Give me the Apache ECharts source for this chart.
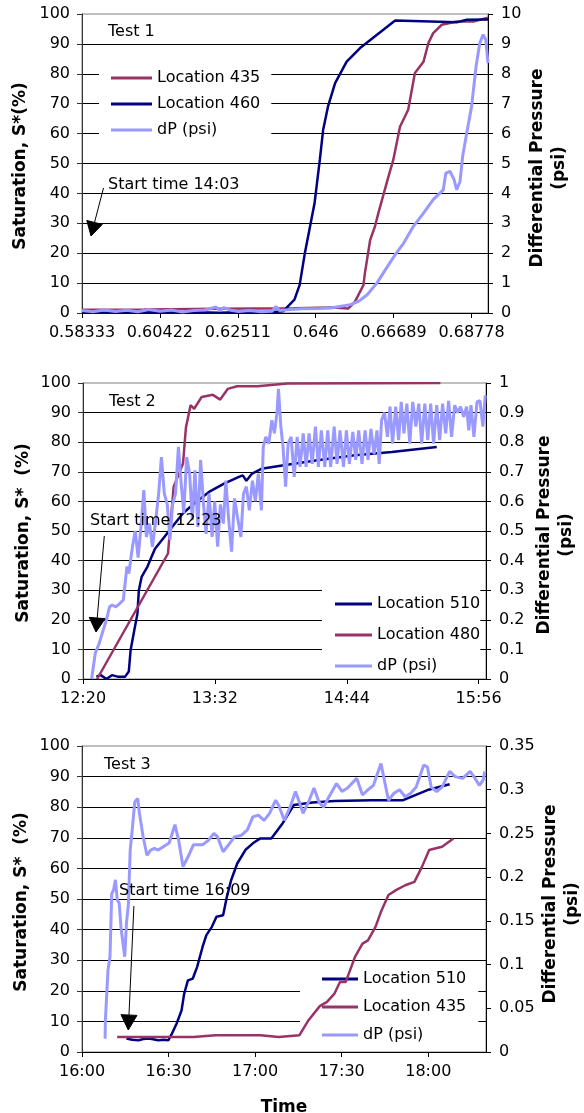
<!DOCTYPE html>
<html><head><meta charset="utf-8">
<script src="https://cdn.jsdelivr.net/npm/echarts@6/dist/echarts.min.js"></script>
<style>html,body{margin:0;padding:0;background:#fff}#c{width:584px;height:1113px}</style>
</head><body><div id="c"></div>
<script>
// ---------- DATA ----------
// Test 1: x = time as fraction of a day, left = saturation (%), right = dP (psi)
const t1Ticks = ['0.58333','0.60422','0.62511','0.646','0.66689','0.68778'];
const t1Loc435 = [[0.58333,1.1],[0.6,1.2],[0.62,1.4],[0.64,1.6],[0.6505,1.8],[0.6547,1.5],[0.6565,3.7],[0.6588,9.3],[0.6592,13.4],[0.6606,24.4],[0.6619,29],[0.6628,33.4],[0.6655,45.6],[0.6668,51.2],[0.6686,62.3],[0.6708,68],[0.6726,80.3],[0.6749,84],[0.6762,90.2],[0.6775,93.6],[0.6798,96.4],[0.6838,97.5],[0.6883,97.5],[0.6922,98.8]];
const t1Loc460 = [[0.58333,0.3],[0.59,0.1],[0.597,0.4],[0.605,0.1],[0.612,0.3],[0.62,0.1],[0.627,0.3],[0.633,0.2],[0.6373,0.6],[0.6403,4.5],[0.6417,9.4],[0.6431,20.1],[0.6457,36.8],[0.6471,51.2],[0.648,61.3],[0.6493,69.1],[0.6512,76.9],[0.6543,84.1],[0.6579,88.6],[0.6673,97.8],[0.6838,97.2],[0.6865,98.1],[0.6922,98.2]];
const t1dP = [[0.58333,0.08],[0.5863,0.04],[0.5893,0.1],[0.5923,0.05],[0.5953,0.09],[0.5983,0.04],[0.6013,0.12],[0.6043,0.06],[0.6073,0.1],[0.6103,0.03],[0.6133,0.08],[0.6163,0.1],[0.6193,0.2],[0.6203,0.08],[0.6213,0.18],[0.6233,0.09],[0.6253,0.05],[0.6283,0.08],[0.6313,0.04],[0.6343,0.06],[0.6353,0.22],[0.6363,0.08],[0.6393,0.12],[0.6423,0.14],[0.6473,0.15],[0.65,0.17],[0.6553,0.28],[0.6575,0.39],[0.6598,0.61],[0.6624,1.0],[0.6647,1.45],[0.6673,1.95],[0.6696,2.34],[0.6722,2.9],[0.6749,3.34],[0.6775,3.79],[0.6802,4.12],[0.6809,4.68],[0.682,4.74],[0.6831,4.46],[0.6838,4.12],[0.6847,4.4],[0.6854,5.24],[0.6865,6.02],[0.6878,6.91],[0.689,8.25],[0.69,9.03],[0.6909,9.31],[0.6916,9.14],[0.6922,8.36]];

// Test 2: x = minutes after midnight
const t2Ticks = ['12:20','13:32','14:44','15:56'];
const t2Loc510 = [[747.3,0.8],[749.7,1.3],[752.8,0],[755.8,1.3],[758.9,0.8],[763,0.8],[765,2.5],[766,9.8],[768,16.5],[769.7,22],[770.5,30],[772,34.5],[775.2,38],[779.3,44],[784.4,48],[789.5,52],[794.6,56],[800.7,59.3],[808.8,63.2],[817,66],[825.1,68.3],[827.2,68.8],[829.2,67],[832.3,69.4],[837.4,71],[849.6,72.2],[867.9,73.9],[888.3,75.6],[908.6,76.7],[933.1,78.4]];
const t2Loc480 = [[747.7,0],[786.4,42.4],[789.5,65],[794.6,72.8],[796.2,85],[798.7,92.5],[800.7,91.3],[804.8,95.3],[810.9,96],[814.9,94.4],[819,98],[824.1,98.9],[835.3,98.9],[851.6,99.8],[935.1,100]];
const t2dP = [[744.7,0],[746.7,0.087],[748.8,0.12],[750.8,0.16],[752.8,0.2],[754.5,0.244],[755.9,0.25],[757.9,0.244],[760,0.255],[762,0.267],[764,0.38],[765,0.356],[767,0.447],[768.5,0.5],[770.1,0.41],[771.8,0.525],[773.2,0.638],[774.6,0.48],[776.3,0.525],[777.9,0.447],[779.5,0.525],[781.3,0.626],[782.8,0.75],[784.4,0.626],[786,0.59],[787.5,0.47],[788.9,0.59],[790.5,0.626],[792.1,0.784],[793.6,0.66],[795,0.56],[796.6,0.75],[798.2,0.694],[799.7,0.537],[801.1,0.705],[802.7,0.514],[804.2,0.74],[805.8,0.59],[807.2,0.49],[808.8,0.626],[810.5,0.48],[811.9,0.6],[813.5,0.447],[815,0.59],[816.6,0.525],[818,0.67],[819.4,0.548],[821.1,0.43],[822.7,0.61],[824.3,0.548],[826.2,0.48],[827.6,0.626],[829.2,0.65],[830.8,0.57],[832.5,0.67],[834.1,0.6],[835.7,0.694],[837.4,0.57],[838.4,0.784],[839.8,0.818],[841.4,0.795],[843.1,0.874],[844.5,0.83],[845.9,0.9],[846.7,0.98],[848,0.853],[849.2,0.784],[850.6,0.65],[852,0.795],[853.6,0.818],[855.3,0.683],[856.9,0.818],[858.5,0.717],[860.2,0.83],[861.8,0.717],[863.4,0.83],[865.1,0.727],[866.9,0.853],[868.5,0.717],[870.1,0.84],[872,0.717],[873.6,0.84],[875.2,0.717],[877.1,0.853],[878.7,0.727],[880.3,0.84],[882.2,0.717],[883.8,0.84],[885.4,0.727],[887.3,0.835],[888.9,0.74],[890.5,0.84],[892.3,0.727],[894,0.84],[895.6,0.74],[897.2,0.845],[898.9,0.76],[900.5,0.84],[901.7,0.727],[903,0.874],[904.6,0.9],[906.2,0.818],[907.6,0.92],[909,0.795],[910.7,0.92],[912.3,0.807],[913.7,0.936],[915.2,0.83],[916.8,0.93],[918.4,0.795],[920,0.936],[921.7,0.853],[923.3,0.93],[924.9,0.795],[926.6,0.93],[928.2,0.807],[929.8,0.93],[931.4,0.795],[933.1,0.925],[934.7,0.807],[936.3,0.93],[938,0.83],[939.6,0.94],[941.2,0.818],[942.9,0.925],[944.5,0.9],[946.1,0.92],[947.8,0.886],[949.4,0.92],[950.6,0.84],[951.8,0.925],[953.4,0.818],[955.1,0.936],[956.7,0.94],[958.3,0.853],[959.6,0.958]];

// Test 3: x = minutes after midnight
const t3Ticks = ['16:00','16:30','17:00','17:30','18:00'];
const t3Loc510 = [[975.4,4.4],[977.4,4.0],[979.6,3.8],[981.2,4.25],[983.2,4.4],[985.1,4.1],[986.4,3.8],[988.3,4.0],[989.9,3.8],[990.9,5.5],[992.8,9.3],[994.5,13.6],[995.4,19],[996.7,23.4],[998.4,24],[999.9,27.8],[1001.8,34.4],[1003.1,38.2],[1005,40.9],[1006.6,44.2],[1008.9,44.7],[1010.2,50.7],[1011.7,56.2],[1013.8,61.6],[1016.6,66],[1019.2,68.2],[1021.8,69.8],[1025.6,69.8],[1029.5,74.7],[1033.4,80.7],[1039.8,81.5],[1047.5,82],[1060.4,82.3],[1071.3,82.3],[1079.7,85.6],[1087.4,87.5]];
const t3Loc435 = [[972.2,4.9],[983.2,4.9],[998.6,4.9],[1006.3,5.45],[1021.8,5.45],[1028.2,4.9],[1035.3,5.45],[1038.5,10.4],[1042.4,15],[1044.9,16.4],[1047.5,19.1],[1049.4,22.9],[1051.4,22.9],[1054.6,31.1],[1057.2,35.4],[1059.1,36.5],[1061.7,40.9],[1063.6,45.8],[1066.2,51.3],[1068.8,52.9],[1072,54.5],[1075.2,55.6],[1077.8,60.5],[1080.3,66],[1082.3,66.5],[1084.8,67.1],[1088.7,69.8]];
const t3dP = [[968,0.0153],[968.1,0.036],[969,0.0935],[969.7,0.109],[970.3,0.181],[970.9,0.185],[971.6,0.197],[972.2,0.174],[972.9,0.17],[973.5,0.143],[974.2,0.124],[974.8,0.109],[975.4,0.147],[976.1,0.17],[976.7,0.231],[977.4,0.254],[978.3,0.286],[979.3,0.29],[979.9,0.273],[981.2,0.246],[982.5,0.225],[983.8,0.231],[985.1,0.233],[986.4,0.231],[988.3,0.235],[990.2,0.239],[992.2,0.26],[993.5,0.242],[995,0.212],[996.7,0.223],[998.6,0.237],[1001.8,0.237],[1003.8,0.242],[1005.7,0.25],[1007,0.246],[1008.9,0.229],[1010.8,0.237],[1012.8,0.246],[1015.3,0.248],[1017.3,0.254],[1019.2,0.269],[1021.1,0.271],[1023.1,0.265],[1025,0.273],[1027.1,0.288],[1028.2,0.282],[1030.1,0.265],[1032.1,0.28],[1034,0.298],[1035.3,0.286],[1036.6,0.273],[1038.5,0.286],[1040.4,0.302],[1042.1,0.286],[1043.7,0.28],[1045.6,0.292],[1048.2,0.307],[1050.1,0.298],[1052,0.302],[1055.2,0.313],[1057.2,0.294],[1059.1,0.3],[1061,0.305],[1063.6,0.33],[1064.2,0.328],[1066.2,0.288],[1068.1,0.296],[1070,0.3],[1072,0.292],[1073.9,0.296],[1075.8,0.303],[1078.4,0.328],[1079.7,0.326],[1081,0.303],[1082.9,0.298],[1084.8,0.303],[1087.4,0.321],[1089.3,0.315],[1091.9,0.313],[1094.5,0.321],[1095.8,0.315],[1097.7,0.305],[1099,0.311],[1099.6,0.321]];

// ---------- STYLE ----------
const FONT = 'DejaVu Sans';
const MAROON = '#993366', NAVY = '#000080', LIGHT = '#9999FF';
const T1_MIN = 0.58333, T1_STEP = 0.02089, T1_MAX = 0.6922;
const T2_MIN = 740, T2_STEP = 72, T2_MAX = 960;
const T3_MIN = 960, T3_STEP = 30, T3_MAX = 1100;

function hhmm(m){ m = Math.round(m); const h = Math.floor(m/60), mm = m%60; return h + ':' + (mm<10?'0':'') + mm; }
const shift = (arr, off) => arr.map(p => [+(p[0]-off).toFixed(6), p[1]]);

const lbl = {fontSize:16, fontFamily:FONT, color:'#000'};
function leftY(gi){
  return {type:'value', gridIndex:gi, position:'left', min:0, max:100, interval:10,
    axisLine:{show:true, lineStyle:{color:'#333', width:1}},
    axisTick:{show:true, length:5, lineStyle:{color:'#333'}},
    axisLabel:Object.assign({margin:12}, lbl),
    splitLine:{show:true, showMinLine:false, showMaxLine:false, lineStyle:{color:'#000', width:1}}};
}
function rightY(gi, max, interval){
  return {type:'value', gridIndex:gi, position:'right', min:0, max:max, interval:interval,
    axisLine:{show:true, lineStyle:{color:'#000', width:1}},
    axisTick:{show:true, length:5, lineStyle:{color:'#000'}},
    axisLabel:Object.assign({margin:13}, lbl),
    splitLine:{show:false}};
}
function xAx(gi, max, interval, fmt){
  return {type:'value', gridIndex:gi, min:0, max:max, interval:interval,
    axisLine:{show:true, onZero:false, lineStyle:{color:'#000', width:1}},
    axisTick:{show:true, length:5, lineStyle:{color:'#000'}},
    axisLabel:Object.assign({margin:12, showMaxLabel:false, formatter:fmt}, lbl),
    splitLine:{show:false}};
}
function ser(name, data, color, xi, yi, w){
  return {type:'line', name:name, data:data, xAxisIndex:xi, yAxisIndex:yi, showSymbol:false, symbol:'none',
    lineStyle:{color:color, width:w}, itemStyle:{color:color}, animation:false, z:2};
}
function legend(names, left, top, itemWidth, gap, padding){
  return {data:names.map(n => ({name:n, icon:'rect'})), orient:'vertical', left:left, top:top,
    itemWidth:itemWidth, itemHeight:3, itemGap:gap, icon:'rect',
    padding:padding, backgroundColor:'#fff', z:1, selectedMode:false,
    textStyle:{fontSize:16, fontFamily:FONT, color:'#000', lineHeight:16, padding:[0,0,0,0]}};
}

// ---------- ANNOTATIONS ----------
const G = [];
function txt(s, x, y, opts){
  G.push(Object.assign({type:'text', x:x, y:y, z:100,
    style:Object.assign({text:s, fontSize:16, fontFamily:FONT, fill:'#000', align:'left', verticalAlign:'middle', textAlign:'left', textVerticalAlign:'middle'}, opts||{})}));
}
function vtitle(s, x, y){
  G.push({type:'text', x:x, y:y, rotation:Math.PI/2, z:100,
    style:{text:s, fontSize:17, fontWeight:'bold', fontFamily:FONT, fill:'#000', lineHeight:22,
      align:'center', verticalAlign:'middle', textAlign:'center', textVerticalAlign:'middle'}});
}
function arrow(x1, y1, tx, ty, L, W){
  const dx = tx-x1, dy = ty-y1, len = Math.hypot(dx, dy), ux = dx/len, uy = dy/len;
  const bx = tx-ux*L, by = ty-uy*L, nx = -uy, ny = ux;
  G.push({type:'line', z:100, shape:{x1:x1, y1:y1, x2:bx, y2:by}, style:{stroke:'#000', lineWidth:1}});
  G.push({type:'polygon', z:100, shape:{points:[[tx,ty],[bx+nx*W,by+ny*W],[bx-nx*W,by-ny*W]]}, style:{fill:'#000', stroke:'#000'}});
}
// Panel 1
txt('Test 1', 108, 32);
txt('Start time 14:03', 108, 185);
arrow(103.5, 188, 91, 236, 14, 8);
vtitle('Saturation, S*(%)', 21, 166);
vtitle('Differential Pressure\n(psi)', 549, 168);
// Panel 2
txt('Test 2', 109, 402);
txt('Start time 12:23', 90, 521);
arrow(104.3, 536, 96, 632, 14, 8);
vtitle('Saturation, S*  (%)', 24, 533);
vtitle('Differential Pressure\n(psi)', 555.5, 535);
// Panel 3
txt('Test 3', 104, 765);
txt('Start time 16:09', 119, 891);
arrow(133.9, 906, 128.3, 1030, 15, 8);
vtitle('Saturation, S*  (%)', 22, 902);
vtitle('Differential Pressure\n(psi)', 562, 904);
G.push({type:'text', x:284, y:1108, z:100, style:{text:'Time', fontSize:17, fontWeight:'bold', fontFamily:FONT, fill:'#000', align:'center', verticalAlign:'middle', textAlign:'center', textVerticalAlign:'middle'}});

const gridBase = {show:true, borderColor:'#808080', borderWidth:1, backgroundColor:'transparent', containLabel:false, outerBoundsMode:'none'};

const option = {
  backgroundColor:'#fff',
  animation:false,
  grid:[
    Object.assign({left:82, top:14, width:406, height:299}, gridBase),
    Object.assign({left:83, top:383, width:403, height:296}, gridBase),
    Object.assign({left:82, top:746, width:404, height:306}, gridBase)
  ],
  xAxis:[
    xAx(0, +(T1_MAX-T1_MIN).toFixed(5), T1_STEP, v => String(+(v+T1_MIN).toFixed(5))),
    xAx(1, T2_MAX-T2_MIN, T2_STEP, v => hhmm(v+T2_MIN)),
    xAx(2, T3_MAX-T3_MIN, T3_STEP, v => hhmm(v+T3_MIN))
  ],
  yAxis:[ leftY(0), rightY(0, 10, 1), leftY(1), rightY(1, 1, 0.1), leftY(2), rightY(2, 0.35, 0.05) ],
  legend:[
    legend(['Location 435','Location 460','dP (psi)'], 99, 67, 41, 10, [3,11,2,12]),
    legend(['Location 510','Location 480','dP (psi)'], 322, 590, 37, 15, [6,0,2,13]),
    legend(['Location 510','Location 435','dP (psi)'], 300, 965, 36, 12, [6,12,2,22])
  ],
  series:[
    ser('Location 435', shift(t1Loc435, T1_MIN), MAROON, 0, 0, 2.5),
    ser('Location 460', shift(t1Loc460, T1_MIN), NAVY, 0, 0, 2.5),
    ser('dP (psi)', shift(t1dP, T1_MIN), LIGHT, 0, 1, 3),
    ser('Location 510', shift(t2Loc510, T2_MIN), NAVY, 1, 2, 2.5),
    ser('Location 480', shift(t2Loc480, T2_MIN), MAROON, 1, 2, 2.5),
    ser('dP (psi)', shift(t2dP, T2_MIN), LIGHT, 1, 3, 3),
    ser('Location 510', shift(t3Loc510, T3_MIN), NAVY, 2, 4, 2.5),
    ser('Location 435', shift(t3Loc435, T3_MIN), MAROON, 2, 4, 2.5),
    ser('dP (psi)', shift(t3dP, T3_MIN), LIGHT, 2, 5, 3)
  ],
  graphic:G
};
const chart = echarts.init(document.getElementById('c'), null, {renderer:'canvas'});
chart.setOption(option);
</script>
</body></html>
